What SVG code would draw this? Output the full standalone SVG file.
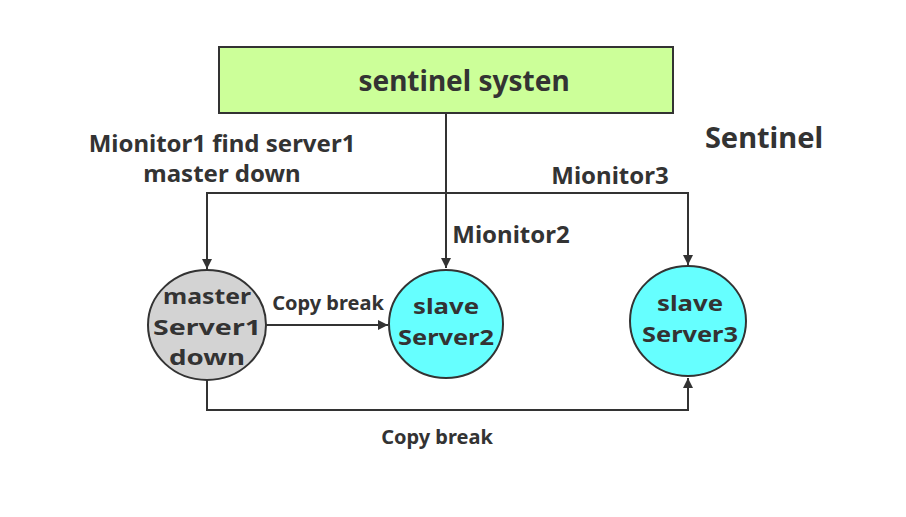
<svg xmlns="http://www.w3.org/2000/svg" width="906" height="517" viewBox="0 0 906 517">
<style>
text{font-family:"Noto Sans","Open Sans","DejaVu Sans",sans-serif;font-weight:bold;fill:#333;text-anchor:middle}
.big{font-size:28px}
.sen{font-size:29px}
.mid{font-size:24px}
.nd{font-size:22px}
.sm{font-size:20px}
.ln{fill:none;stroke:#333;stroke-width:2}
</style>
<defs>
<marker id="ah" viewBox="0 0 10 10" refX="10" refY="5" markerWidth="10" markerHeight="10" markerUnits="userSpaceOnUse" orient="auto">
<path d="M0,0 L10,5 L0,10 Z" fill="#333"/>
</marker>
</defs>
<rect width="906" height="517" fill="#fff"/>
<g id="sentinel">
<rect x="219" y="47" width="454" height="66" fill="#ccff99" stroke="#333" stroke-width="2"/>
<text class="big" x="464" y="91">sentinel systen</text>
</g>
<g id="connectors">
<polyline class="ln" points="446,113 446,268" marker-end="url(#ah)"/>
<polyline class="ln" points="446,193 207,193 207,269" marker-end="url(#ah)"/>
<polyline class="ln" points="446,193 688,193 688,265" marker-end="url(#ah)"/>
<polyline class="ln" points="266,325 388,325" marker-end="url(#ah)"/>
<polyline class="ln" points="207,380 207,410 688,410 688,378" marker-end="url(#ah)"/>
</g>
<g id="labels">
<text class="sen" x="764" y="148">Sentinel</text>
<text class="mid" x="222" y="152">Mionitor1 find server1</text>
<text class="mid" x="222" y="182">master down</text>
<text class="mid" x="610" y="184">Mionitor3</text>
<text class="mid" x="511" y="243">Mionitor2</text>
<text class="sm" x="328" y="310">Copy break</text>
<text class="sm" x="437" y="444">Copy break</text>
</g>
<g id="master">
<ellipse cx="207" cy="325" rx="59" ry="55" fill="#d3d3d3" stroke="#333" stroke-width="2"/>
<text class="nd" x="207" y="304" textLength="88" lengthAdjust="spacingAndGlyphs">master</text>
<text class="nd" x="207" y="335" textLength="108" lengthAdjust="spacingAndGlyphs">Server1</text>
<text class="nd" x="207" y="365" textLength="76" lengthAdjust="spacingAndGlyphs">down</text>
</g>
<g id="slave2">
<ellipse cx="446" cy="324" rx="57" ry="54" fill="#66ffff" stroke="#333" stroke-width="2"/>
<text class="nd" x="446" y="314" textLength="66" lengthAdjust="spacingAndGlyphs">slave</text>
<text class="nd" x="446" y="345" textLength="96" lengthAdjust="spacingAndGlyphs">Server2</text>
</g>
<g id="slave3">
<ellipse cx="688" cy="321" rx="58" ry="55" fill="#66ffff" stroke="#333" stroke-width="2"/>
<text class="nd" x="690" y="311" textLength="66" lengthAdjust="spacingAndGlyphs">slave</text>
<text class="nd" x="690" y="342" textLength="96" lengthAdjust="spacingAndGlyphs">Server3</text>
</g>
</svg>
